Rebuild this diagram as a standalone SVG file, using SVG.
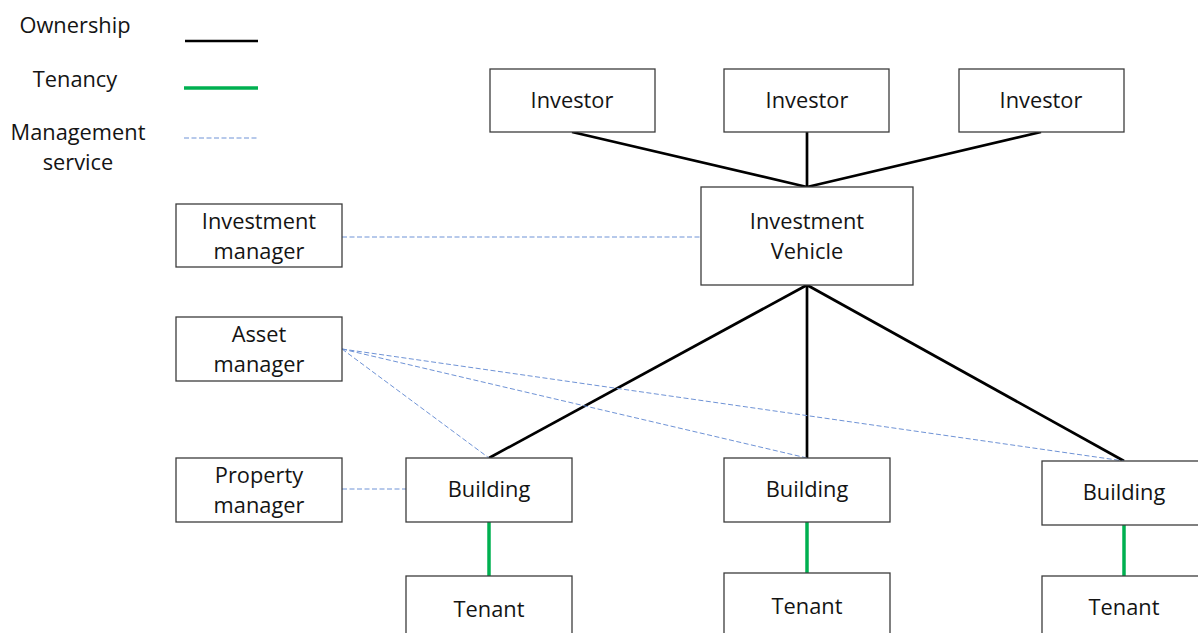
<svg xmlns="http://www.w3.org/2000/svg" width="1198" height="633" viewBox="0 0 1198 633">
<style>
text{font-family:"Open Sans","Liberation Sans",sans-serif;font-size:21.8px;fill:#141414;text-anchor:middle}
.box{fill:#fff;stroke:#3c3c3c;stroke-width:1.3}
.own{stroke:#000;stroke-width:2.7;fill:none}
.ten{stroke:#00b050;stroke-width:3.5;fill:none}
.mgmt{stroke:#6f93d6;stroke-width:1;stroke-dasharray:5,2.5;fill:none}
</style>
<rect width="1198" height="633" fill="#fff"/>
<g id="legend">
<text x="75" y="33">Ownership</text>
<line class="own" x1="185" y1="41" x2="258" y2="41"/>
<text x="75" y="87">Tenancy</text>
<line class="ten" x1="184" y1="88" x2="258" y2="88"/>
<text x="78" y="140">Management</text>
<text x="78" y="170">service</text>
<line class="mgmt" x1="184" y1="138" x2="258" y2="138"/>
</g>
<g id="connectors">
<line class="own" x1="572" y1="132" x2="807" y2="187"/>
<line class="own" x1="807" y1="132" x2="807" y2="187"/>
<line class="own" x1="1041" y1="132" x2="807" y2="187"/>
<line class="own" x1="807" y1="285" x2="489" y2="458"/>
<line class="own" x1="807" y1="285" x2="807" y2="458"/>
<line class="own" x1="807" y1="285" x2="1124" y2="461"/>
<line class="ten" x1="489" y1="522" x2="489" y2="576"/>
<line class="ten" x1="807" y1="522" x2="807" y2="573"/>
<line class="ten" x1="1124" y1="525" x2="1124" y2="576"/>
<line class="mgmt" x1="342" y1="237" x2="701" y2="237"/>
<line class="mgmt" x1="342" y1="349" x2="489" y2="458"/>
<line class="mgmt" x1="342" y1="349" x2="807" y2="458"/>
<line class="mgmt" x1="342" y1="349" x2="1124" y2="461"/>
<line class="mgmt" x1="342" y1="489" x2="406" y2="489"/>
</g>
<g id="investor1"><rect class="box" x="490" y="69" width="165" height="63"/><text x="572" y="108">Investor</text></g>
<g id="investor2"><rect class="box" x="724" y="69" width="165" height="63"/><text x="807" y="108">Investor</text></g>
<g id="investor3"><rect class="box" x="959" y="69" width="165" height="63"/><text x="1041" y="108">Investor</text></g>
<g id="vehicle"><rect class="box" x="701" y="187" width="212" height="98"/><text x="807" y="229">Investment</text><text x="807" y="259">Vehicle</text></g>
<g id="investment-manager"><rect class="box" x="176" y="204" width="166" height="63"/><text x="259" y="229">Investment</text><text x="259" y="259">manager</text></g>
<g id="asset-manager"><rect class="box" x="176" y="317" width="166" height="64"/><text x="259" y="342">Asset</text><text x="259" y="372">manager</text></g>
<g id="property-manager"><rect class="box" x="176" y="458" width="166" height="64"/><text x="259" y="483">Property</text><text x="259" y="513">manager</text></g>
<g id="building1"><rect class="box" x="406" y="458" width="166" height="64"/><text x="489" y="497">Building</text></g>
<g id="building2"><rect class="box" x="724" y="458" width="166" height="64"/><text x="807" y="497">Building</text></g>
<g id="building3"><rect class="box" x="1042" y="461" width="166" height="64"/><text x="1124" y="500">Building</text></g>
<g id="tenant1"><rect class="box" x="406" y="576" width="166" height="70"/><text x="489" y="617">Tenant</text></g>
<g id="tenant2"><rect class="box" x="724" y="573" width="166" height="70"/><text x="807" y="614">Tenant</text></g>
<g id="tenant3"><rect class="box" x="1042" y="576" width="166" height="70"/><text x="1124" y="615">Tenant</text></g>
</svg>
